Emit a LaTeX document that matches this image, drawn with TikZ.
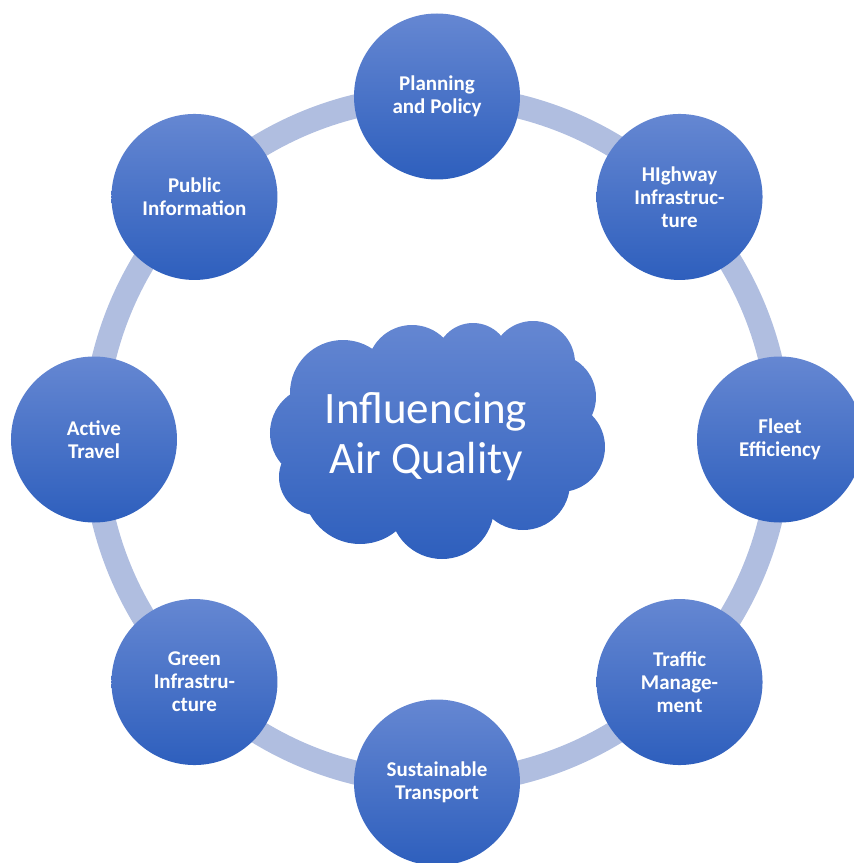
\documentclass[tikz,border=0pt]{standalone}
\usepackage{fontspec}
\setmainfont{Carlito}
\usetikzlibrary{backgrounds}
\definecolor{topicTop}{HTML}{6587D2}
\definecolor{topicBot}{HTML}{2E5FBD}
\definecolor{ringBlue}{HTML}{B0BEE0}
\newcommand{\topicfont}{\fontsize{21}{23}\selectfont\bfseries}
\newcommand{\hubfont}{\fontsize{45}{50}\selectfont}

\begin{document}
\begin{tikzpicture}[
  x=1pt, y=1pt,
  topic/.style={circle, minimum size=166pt, inner sep=0pt, align=center, text=white, font=\topicfont,
    top color=topicTop, bottom color=topicBot},
  ring/.style={draw=ringBlue, line width=24pt, bend left=22.5, looseness=0.885},
  hubtext/.style={align=center, text=white, font=\hubfont, inner sep=0pt}]
\useasboundingbox (-437,-423.5) rectangle (417,439.5);
% cloud in the middle
\shade[top color=topicTop, bottom color=topicBot]
  (0,0) circle (95)
  (-94,46.5) circle (53) (-25,69.5) circle (45) (36,79.5) circle (37)
  (96,76.5) circle (42) (116,42.5) circle (43) (123,-7.5) circle (45)
  (86,-43.5) circle (47) (5,-67.5) circle (52) (-77,-47.5) circle (57)
  (-120,-37.5) circle (38) (-120,6.5) circle (47);
\node[hubtext] (hub) at (-11,2.5) {Influencing\\Air Quality};
% the eight levers round it
\node[topic] (plan) at (90:343) {Planning\\and Policy};
\node[topic] (highway) at (45:343) {HIghway\\Infrastruc-\\ture};
\node[topic] (fleet) at (0:343) {Fleet\\Efficiency};
\node[topic] (traffic) at (-45:343) {Traffic\\Manage-\\ment};
\node[topic] (transport) at (-90:343) {Sustainable\\Transport};
\node[topic] (green) at (-135:343) {Green\\Infrastru-\\cture};
\node[topic] (active) at (180:343) {Active\\Travel};
\node[topic] (public) at (135:343) {Public\\Information};
\begin{scope}[on background layer]
\draw[ring] (plan.center) to (highway.center);
\draw[ring] (highway.center) to (fleet.center);
\draw[ring] (fleet.center) to (traffic.center);
\draw[ring] (traffic.center) to (transport.center);
\draw[ring] (transport.center) to (green.center);
\draw[ring] (green.center) to (active.center);
\draw[ring] (active.center) to (public.center);
\draw[ring] (public.center) to (plan.center);
\end{scope}
\end{tikzpicture}
\end{document}
